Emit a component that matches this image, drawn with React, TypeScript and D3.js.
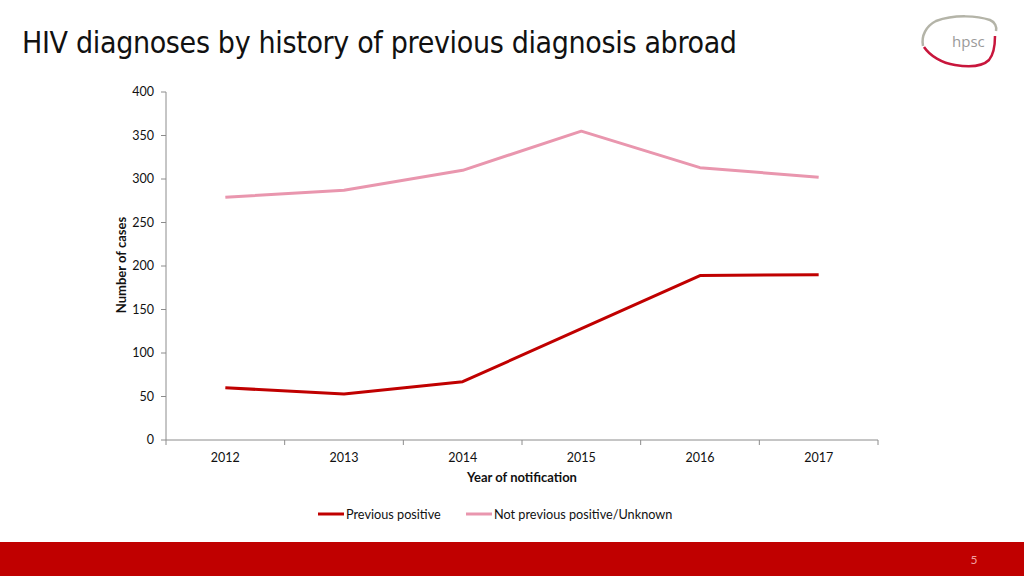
import * as d3 from "d3";

const W = 1024;
const H = 576;
const MARGIN = { top: 92, right: 146, bottom: 136, left: 166 };

const YEARS = ["2012", "2013", "2014", "2015", "2016", "2017"];
const PREVIOUS_POSITIVE = [60, 53, 67, 128, 189, 190];
const NOT_PREVIOUS = [279, 287, 310, 355, 313, 302];
const Y_TICKS = [0, 50, 100, 150, 200, 250, 300, 350, 400];

const SERIES = [
  { name: "Previous positive", values: PREVIOUS_POSITIVE, color: "#C00000" },
  { name: "Not previous positive/Unknown", values: NOT_PREVIOUS, color: "#E996AE" },
];

const FONT = "Lato, 'Open Sans', sans-serif";

export default function App() {
  const boundsWidth = W - MARGIN.left - MARGIN.right;
  const boundsHeight = H - MARGIN.top - MARGIN.bottom;

  const xScale = d3.scaleBand().domain(YEARS).range([0, boundsWidth]);
  const yScale = d3.scaleLinear().domain([0, 400]).range([boundsHeight, 0]);

  const lineGen = d3
    .line<number>()
    .x((_, i) => (xScale(YEARS[i]) ?? 0) + xScale.bandwidth() / 2)
    .y((d) => yScale(d));

  const axisColor = "#8c8c8c";

  // x tick boundaries between categories
  const xTicks = [...YEARS.map((y) => xScale(y) ?? 0), boundsWidth];

  return (
    <svg
      width={W}
      height={H}
      style={{ position: "absolute", left: 0, top: 0, background: "#fff" }}
    >
      {/* title */}
      <text
        x={22}
        y={53}
        fontFamily="'DejaVu Sans Condensed', 'DejaVu Sans', sans-serif"
        fontSize={30}
        fill="#111"
        textLength={715}
      >
        HIV diagnoses by history of previous diagnosis abroad
      </text>

      {/* logo */}
      <g>
        <path
          d="M 923 46 C 921 36, 926 26, 936 21 C 955 14, 978 16, 990 20 C 995 22, 997 27, 996 31"
          fill="none"
          stroke="#b4b4a8"
          strokeWidth={2.5}
        />
        <path
          d="M 924 47 C 930 56, 942 63, 955 65 C 968 67, 982 67, 989 60 C 994 54, 995 44, 995 36"
          fill="none"
          stroke="#c8163c"
          strokeWidth={2.5}
        />
        <text x={952} y={47} fontFamily="'Open Sans', sans-serif" fontSize={15} fill="#9a9a9a">
          hpsc
        </text>
      </g>

      <g transform={`translate(${MARGIN.left},${MARGIN.top})`}>
        {/* y axis */}
        <line x1={0} x2={0} y1={0} y2={boundsHeight} stroke={axisColor} />
        {Y_TICKS.map((t) => (
          <g key={t} transform={`translate(0,${yScale(t)})`}>
            <line x1={-5} x2={0} stroke={axisColor} />
            <text
              x={-12}
              dy="0.35em"
              textAnchor="end"
              fontFamily={FONT}
              fontSize={12.5}
              fill="#111"
            >
              {t}
            </text>
          </g>
        ))}

        {/* x axis */}
        <line x1={0} x2={boundsWidth} y1={boundsHeight} y2={boundsHeight} stroke={axisColor} />
        {xTicks.map((x, i) => (
          <line key={i} x1={x} x2={x} y1={boundsHeight} y2={boundsHeight + 5} stroke={axisColor} />
        ))}
        {YEARS.map((y) => (
          <text
            key={y}
            x={(xScale(y) ?? 0) + xScale.bandwidth() / 2}
            y={boundsHeight + 22}
            textAnchor="middle"
            fontFamily={FONT}
            fontSize={12.5}
            fill="#111"
          >
            {y}
          </text>
        ))}

        {/* axis titles */}
        <text
          x={boundsWidth / 2}
          y={boundsHeight + 42}
          textAnchor="middle"
          fontFamily={FONT}
          fontWeight="bold"
          fontSize={13}
          fill="#111"
        >
          Year of notification
        </text>
        <text
          transform={`translate(-40,${boundsHeight / 2 - 1}) rotate(-90)`}
          textAnchor="middle"
          fontFamily={FONT}
          fontWeight="bold"
          fontSize={13}
          fill="#111"
        >
          Number of cases
        </text>

        {/* lines */}
        {SERIES.map((s) => (
          <path
            key={s.name}
            d={lineGen(s.values) ?? ""}
            fill="none"
            stroke={s.color}
            strokeWidth={3}
            strokeLinejoin="round"
          />
        ))}
      </g>

      {/* legend */}
      <g fontFamily={FONT} fontSize={12.7} fill="#111">
        <line x1={318} x2={344} y1={514} y2={514} stroke={SERIES[0].color} strokeWidth={3} />
        <text x={346} y={518.5}>
          {SERIES[0].name}
        </text>
        <line x1={466} x2={492} y1={514} y2={514} stroke={SERIES[1].color} strokeWidth={3} />
        <text x={494} y={518.5}>
          {SERIES[1].name}
        </text>
      </g>

      {/* footer band */}
      <rect x={0} y={542} width={W} height={34} fill="#C00000" />
      <text
        x={974}
        y={564}
        textAnchor="middle"
        fontFamily={FONT}
        fontSize={12}
        fill="#f0a0a0"
      >
        5
      </text>
    </svg>
  );
}
